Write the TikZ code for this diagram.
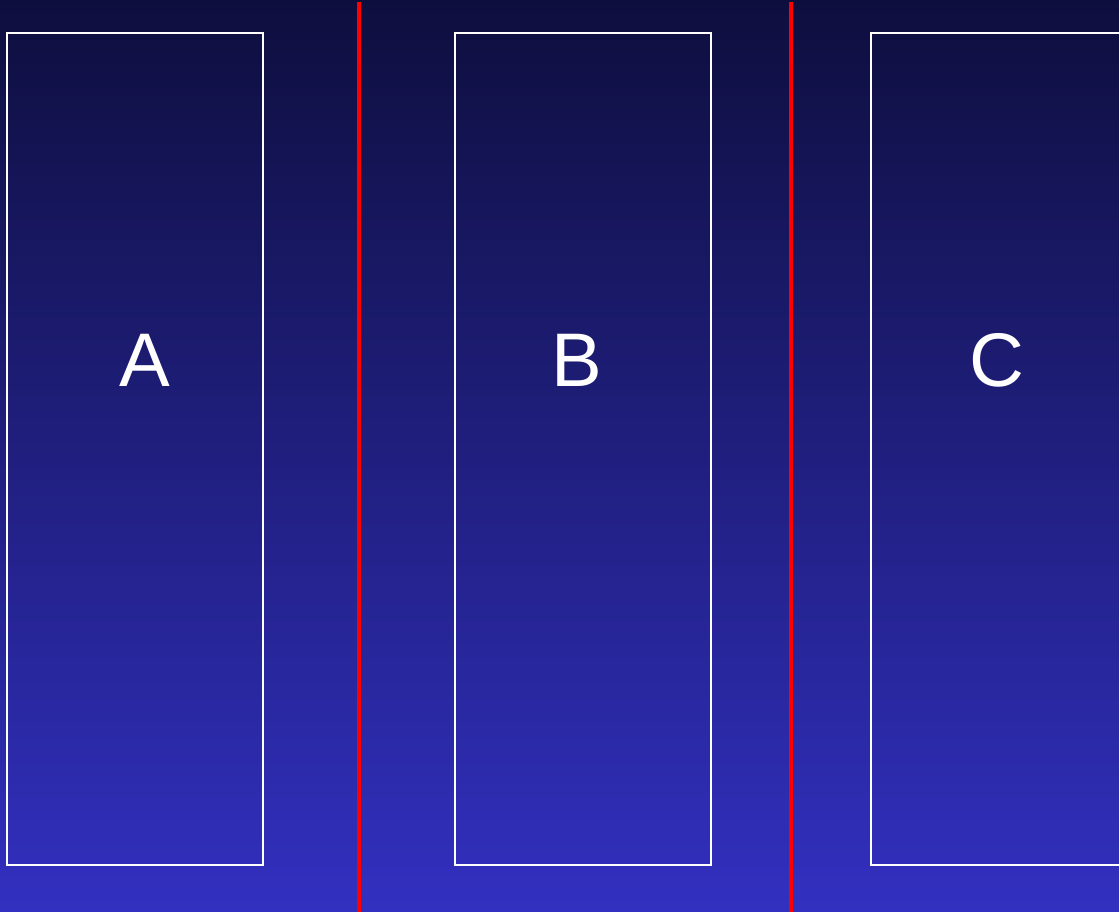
\documentclass[tikz,border=0pt]{standalone}
\usepackage{fontspec}
\setmainfont{Liberation Sans}
\definecolor{bgtop}{RGB}{14,14,62}
\definecolor{bgbot}{RGB}{50,48,192}
\begin{document}
\begin{tikzpicture}[x=1pt,y=1pt,
  panel/.style={draw=white,line width=1.8pt,minimum width=256pt,minimum height=832pt,inner sep=0pt,outer sep=0pt},
  letter/.style={text=white,font=\fontsize{76}{76}\selectfont,inner sep=0pt},
  divider/.style={draw=red,line width=4pt}]
\useasboundingbox (0,0) rectangle (1119,912);
\clip (0,0) rectangle (1119,912);
\shade[top color=bgtop,bottom color=bgbot] (0,0) rectangle (1119,912);
\node[panel] (boxA) at (135,463) {};
\node[panel] (boxB) at (583,463) {};
\node[panel] (boxC) at (999,463) {};
\node[letter] (labA) at (145,552) {A};
\node[letter] (labB) at (577,552) {B};
\node[letter] (labC) at (997,552) {C};
\coordinate (r1t) at (359,910);
\coordinate (r1b) at (359,0);
\coordinate (r2t) at (791,910);
\coordinate (r2b) at (791,0);
\draw[divider] (r1t) -- (r1b);
\draw[divider] (r2t) -- (r2b);
\end{tikzpicture}
\end{document}
